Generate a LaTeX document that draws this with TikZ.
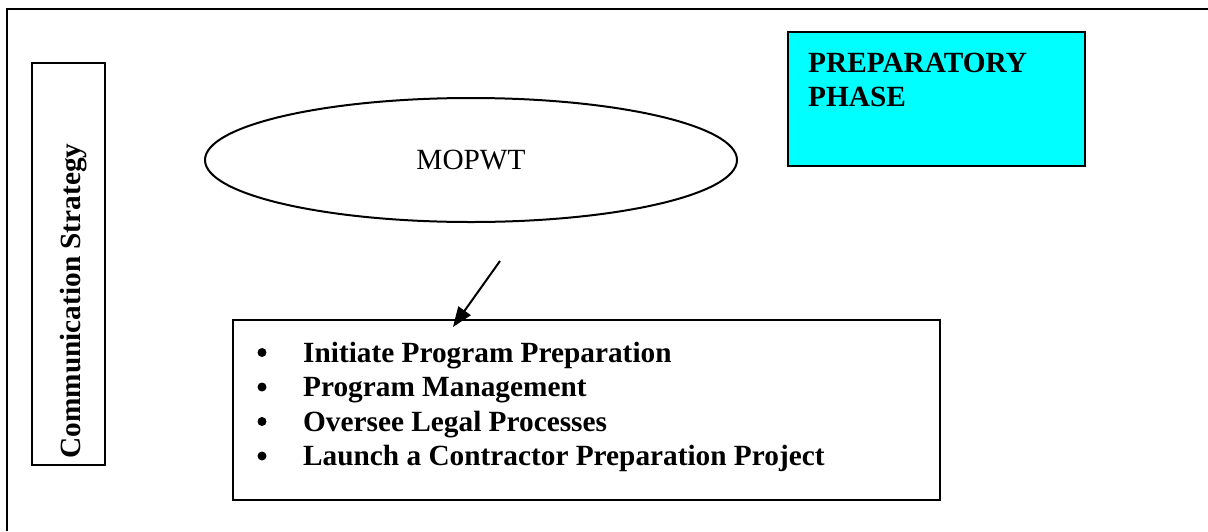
\documentclass[tikz,border=0pt]{standalone}
\usepackage{fontspec}
\setmainfont{Liberation Serif}
\usetikzlibrary{shapes.geometric,arrows.meta}
\definecolor{phasecyan}{RGB}{0,255,255}
\begin{document}
\begin{tikzpicture}[x=1pt,y=-1pt,
  frame/.style={line width=2pt},
  boxnode/.style={draw,line width=2pt,inner sep=0pt,rectangle},
  bigtxt/.style={font=\fontsize{29.3}{34}\selectfont},
  boldtxt/.style={font=\fontsize{29.3}{34}\selectfont\bfseries,inner sep=0pt,anchor=base west},
  bulletmark/.style={circle,fill=black,inner sep=0pt,minimum size=9pt},
  link/.style={line width=2pt,-{Triangle[length=20pt,width=15pt]}}]
\useasboundingbox (0,0) rectangle (1208,531);
% outer frame (runs off the page on the right and bottom)
\draw[frame] (7,531) -- (7,9) -- (1208,9);
% communication strategy box
\node[boxnode,minimum width=73pt,minimum height=402pt] (comm) at (68.5,264) {};
\node[boldtxt,anchor=base,rotate=90] (commtxt) at (80,301) {Communication Strategy};
% preparatory phase box
\node[boxnode,fill=phasecyan,minimum width=297pt,minimum height=134pt] (phase) at (936.5,99) {};
\node[boldtxt] (phase1) at (808,72) {PREPARATORY};
\node[boldtxt] (phase2) at (808,106) {PHASE};
% MOPWT ellipse
\node[draw,ellipse,line width=2pt,inner sep=0pt,minimum width=532pt,minimum height=124pt,bigtxt] (mopwt) at (471,160) {MOPWT};
% task list box
\node[boxnode,minimum width=707pt,minimum height=180pt] (tasks) at (586.5,410) {};
\node[bulletmark] (b1) at (262,352.5) {};
\node[bulletmark] (b2) at (262,387) {};
\node[bulletmark] (b3) at (262,421.5) {};
\node[bulletmark] (b4) at (262,456) {};
\node[boldtxt] (t1) at (303,362) {Initiate Program Preparation};
\node[boldtxt] (t2) at (303,396.5) {Program Management};
\node[boldtxt] (t3) at (303,431) {Oversee Legal Processes};
\node[boldtxt] (t4) at (303,465.5) {Launch a Contractor Preparation Project};
% arrow
\coordinate (arrowstart) at (500,261);
\coordinate (arrowend) at (453,327);
\draw[link] (arrowstart) -- (arrowend);
\end{tikzpicture}
\end{document}
